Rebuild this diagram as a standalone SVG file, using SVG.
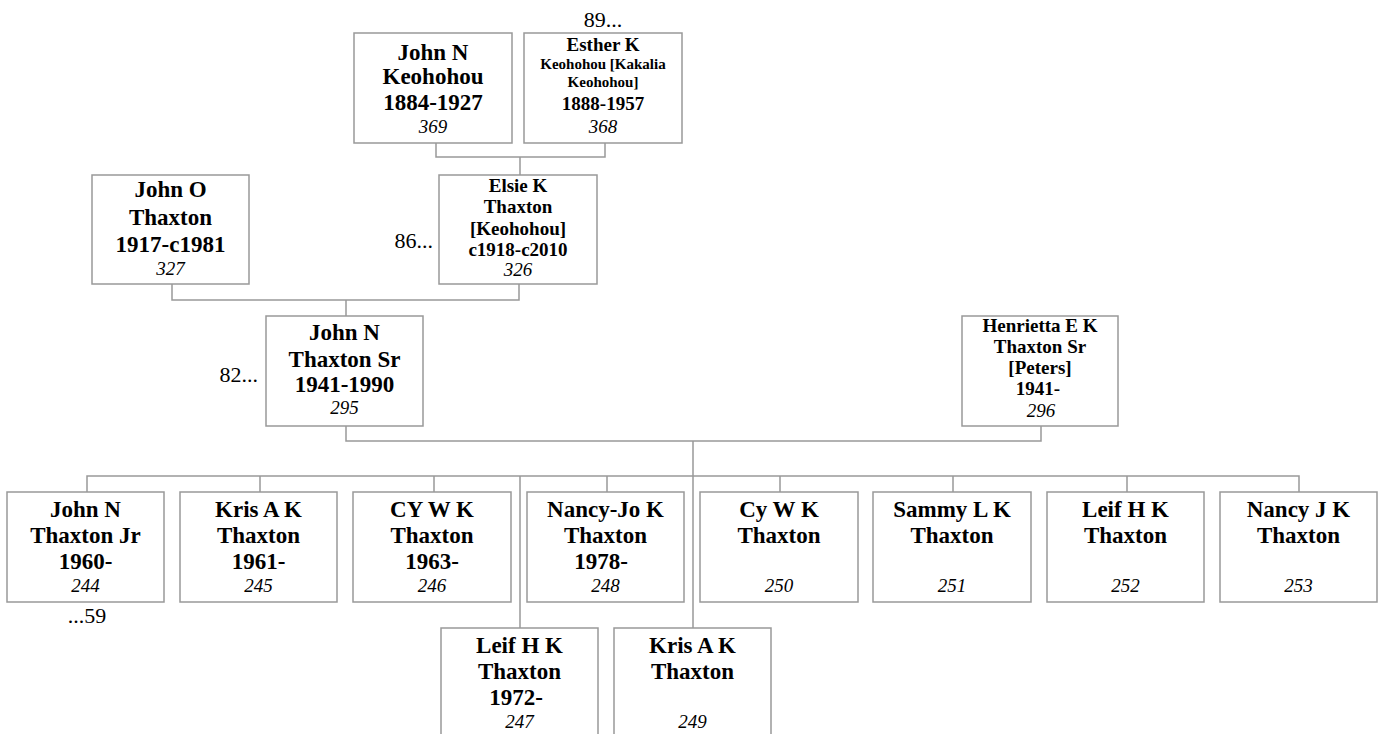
<svg xmlns="http://www.w3.org/2000/svg" width="1382" height="734" viewBox="0 0 1382 734">
<style>
.box{fill:#fff;stroke:#999;stroke-width:1.5}
.ln{fill:none;stroke:#999;stroke-width:1.5}
text{font-family:"Liberation Serif","Times New Roman",serif;text-anchor:middle;fill:#000}
.b{font-weight:bold;font-size:23px}
.m{font-weight:bold;font-size:19px}
.s{font-weight:bold;font-size:15px}
.i{font-style:italic;font-size:19px}
.r{font-size:22px}
</style>
<rect width="1382" height="734" fill="#fff"/>
<g id="connectors">
<path class="ln" d="M436 143V157H605V143M520 157V175"/>
<path class="ln" d="M172 284V300H519V284M346 300V316"/>
<path class="ln" d="M346 426V441H1041V426M693 441V628"/>
<path class="ln" d="M87 492V476H1299V492M260 476V492M434 476V492M607 476V492M780 476V492M953 476V492M1127 476V492M520 476V628"/>
</g>
<g id="n369"><rect class="box" x="354" y="33" width="158" height="110"/>
<text x="433" y="60" class="b">John N</text><text x="433" y="84" class="b">Keohohou</text><text x="433" y="110" class="b">1884-1927</text><text x="433" y="133" class="i">369</text></g>
<g id="n368"><rect class="box" x="524" y="33" width="158" height="110"/>
<text x="603" y="27" class="r">89...</text>
<text x="603" y="51" class="m">Esther K</text><text x="603" y="69" class="s">Keohohou [Kakalia</text><text x="603" y="87" class="s">Keohohou]</text><text x="603" y="110" class="m">1888-1957</text><text x="603" y="133" class="i">368</text></g>
<g id="n327"><rect class="box" x="92" y="175" width="157" height="109"/>
<text x="170.5" y="197" class="b">John O</text><text x="170.5" y="225" class="b">Thaxton</text><text x="170.5" y="252" class="b">1917-c1981</text><text x="170.5" y="275" class="i">327</text></g>
<g id="n326"><rect class="box" x="439" y="175" width="158" height="109"/>
<text x="433" y="248" class="r" style="text-anchor:end">86...</text>
<text x="518" y="192" class="m">Elsie K</text><text x="518" y="213" class="m">Thaxton</text><text x="518" y="235" class="m">[Keohohou]</text><text x="518" y="256" class="m">c1918-c2010</text><text x="518" y="276" class="i">326</text></g>
<g id="n295"><rect class="box" x="266" y="316" width="157" height="110"/>
<text x="258" y="382" class="r" style="text-anchor:end">82...</text>
<text x="344.5" y="340" class="b">John N</text><text x="344.5" y="367" class="b">Thaxton Sr</text><text x="344.5" y="392" class="b">1941-1990</text><text x="344.5" y="414" class="i">295</text></g>
<g id="n296"><rect class="box" x="962" y="316" width="156" height="110"/>
<text x="1040" y="332" class="m">Henrietta E K</text><text x="1040" y="353" class="m">Thaxton Sr</text><text x="1040" y="374" class="m">[Peters]</text><text x="1038" y="395" class="m">1941-</text><text x="1041" y="417" class="i">296</text></g>
<g id="n244"><rect class="box" x="7" y="492" width="157" height="110"/>
<text x="85.5" y="517" class="b">John N</text><text x="85.5" y="543" class="b">Thaxton Jr</text><text x="85.5" y="569" class="b">1960-</text><text x="85.5" y="592" class="i">244</text>
<text x="87" y="623" class="r">...59</text></g>
<g id="n245"><rect class="box" x="180" y="492" width="157" height="110"/>
<text x="258.5" y="517" class="b">Kris A K</text><text x="258.5" y="543" class="b">Thaxton</text><text x="258.5" y="569" class="b">1961-</text><text x="258.5" y="592" class="i">245</text></g>
<g id="n246"><rect class="box" x="353" y="492" width="158" height="110"/>
<text x="432" y="517" class="b">CY W K</text><text x="432" y="543" class="b">Thaxton</text><text x="432" y="569" class="b">1963-</text><text x="432" y="592" class="i">246</text></g>
<g id="n248"><rect class="box" x="527" y="492" width="157" height="110"/>
<text x="605.5" y="517" class="b">Nancy-Jo K</text><text x="605.5" y="543" class="b">Thaxton</text><text x="601" y="569" class="b">1978-</text><text x="605.5" y="592" class="i">248</text></g>
<g id="n250"><rect class="box" x="700" y="492" width="158" height="110"/>
<text x="779" y="517" class="b">Cy W K</text><text x="779" y="543" class="b">Thaxton</text><text x="779" y="592" class="i">250</text></g>
<g id="n251"><rect class="box" x="873" y="492" width="158" height="110"/>
<text x="952" y="517" class="b">Sammy L K</text><text x="952" y="543" class="b">Thaxton</text><text x="952" y="592" class="i">251</text></g>
<g id="n252"><rect class="box" x="1047" y="492" width="157" height="110"/>
<text x="1125.5" y="517" class="b">Leif H K</text><text x="1125.5" y="543" class="b">Thaxton</text><text x="1125.5" y="592" class="i">252</text></g>
<g id="n253"><rect class="box" x="1220" y="492" width="157" height="110"/>
<text x="1298.5" y="517" class="b">Nancy J K</text><text x="1298.5" y="543" class="b">Thaxton</text><text x="1298.5" y="592" class="i">253</text></g>
<g id="n247"><rect class="box" x="441" y="628" width="157" height="110"/>
<text x="519.5" y="653" class="b">Leif H K</text><text x="519.5" y="679" class="b">Thaxton</text><text x="516" y="705" class="b">1972-</text><text x="519.5" y="728" class="i">247</text></g>
<g id="n249"><rect class="box" x="614" y="628" width="157" height="110"/>
<text x="692.5" y="653" class="b">Kris A K</text><text x="692.5" y="679" class="b">Thaxton</text><text x="692.5" y="728" class="i">249</text></g>
</svg>
